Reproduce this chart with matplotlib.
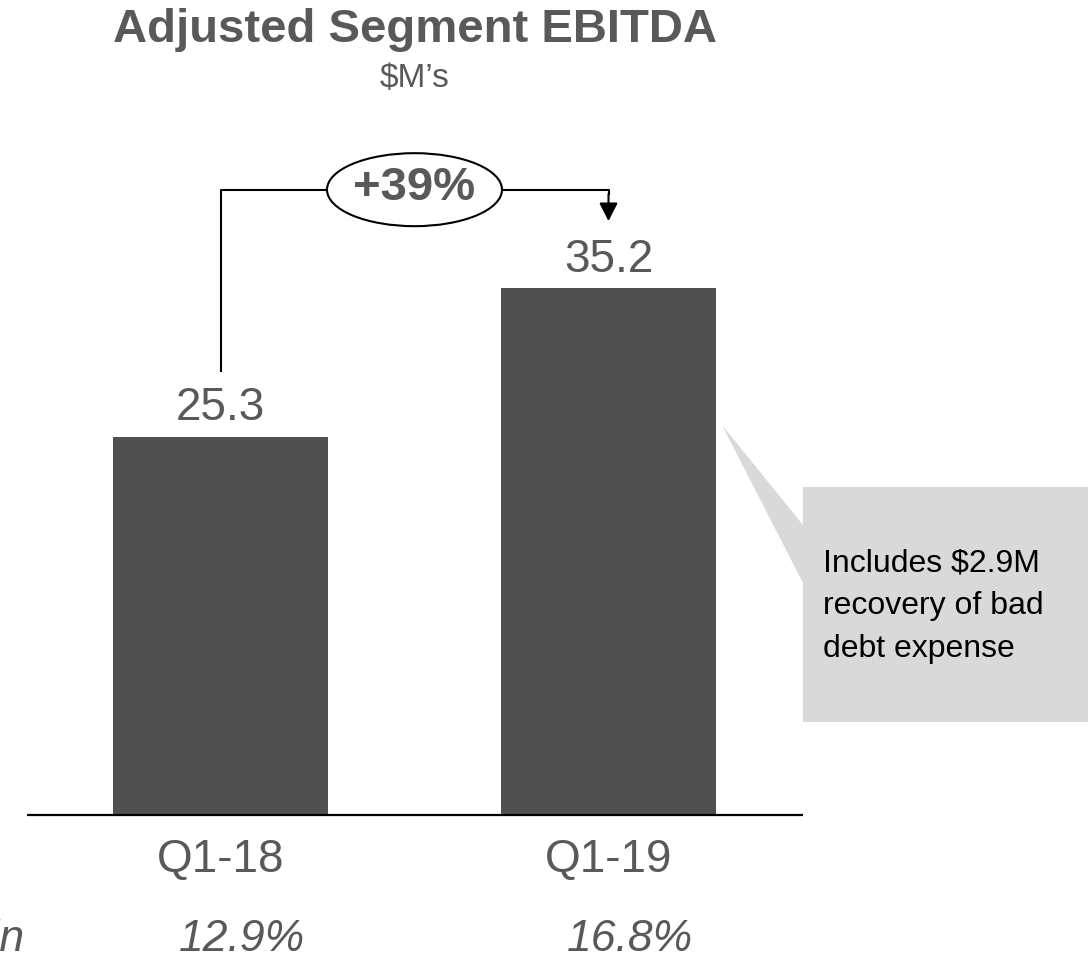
"""Adjusted Segment EBITDA bar chart with growth bracket and callout"""

import matplotlib

matplotlib.use("Agg")
import matplotlib.pyplot as plt
from matplotlib.patches import Ellipse, Polygon
from matplotlib.transforms import Affine2D

# data
categories = ["Q1-18", "Q1-19"]
ebitda = [25.3, 35.2]
margins = ["12.9%", "16.8%"]
growth_label = "+39%"
title = "Adjusted Segment EBITDA"
subtitle = "$M\u2019s"
callout_text = "Includes $2.9M\nrecovery of bad\ndebt expense"
margin_label = "Margin"

W, H = 1088, 967
BAR_COLOR = "#505050"
TEXT_COLOR = "#595959"
BOX_COLOR = "#d9d9d9"

plt.rcParams["font.family"] = ["Liberation Sans", "DejaVu Sans"]

fig = plt.figure(figsize=(W / 100, H / 100), dpi=100)
ax = fig.add_axes([0, 0, 1, 1])
ax.set_axis_off()

# bars sit at x = 0, 1 ; y scale chosen so the baseline lands near the bottom
px_per_x = 388.0
px_per_y = 14.96
x0_px, base_px = 220.5, 815.0
ax.set_xlim(-x0_px / px_per_x, (W - x0_px) / px_per_x)
ax.set_ylim(-(H - base_px) / px_per_y, base_px / px_per_y)

# pixel transform (origin top-left) for layout items
px = Affine2D().scale(1 / W, -1 / H).translate(0, 1) + fig.transFigure

xs = list(range(len(categories)))
ax.bar(xs, ebitda, width=0.554, color=BAR_COLOR, zorder=2)
ax.plot([-0.498, 1.502], [0, 0], color="black", linewidth=1.6, zorder=3, solid_capstyle="butt")

for x, v in zip(xs, ebitda):
    ax.text(x, v + 0.42, f"{v:.1f}", ha="center", va="bottom", fontsize=33, color=TEXT_COLOR)

for x, cat, m in zip(xs, categories, margins):
    ax.text(x, -3.0, cat, ha="center", va="center", fontsize=33, color=TEXT_COLOR)
    ax.text(x + 0.055, -8.3, m, ha="center", va="center", fontsize=32, color=TEXT_COLOR, style="italic")

# row label is cut by the left edge, as in the source slide
ax.text(25, 939, margin_label, transform=px, ha="right", va="center", fontsize=32,
        color=TEXT_COLOR, style="italic")

# title
fig.text(415 / W, 1 - 30 / H, title, ha="center", va="center", fontsize=34, fontweight="bold", color=TEXT_COLOR)
fig.text(415 / W, 1 - 79 / H, subtitle, ha="center", va="center", fontsize=24, color=TEXT_COLOR)

# growth bracket
bracket_y = 41.8
ax.plot([0, 0, 1, 1], [ebitda[0] + 4.4, bracket_y, bracket_y, bracket_y - 0.3],
        color="black", linewidth=1.5, zorder=3)
ax.annotate("", xy=(1, bracket_y - 2.1), xytext=(1, bracket_y - 0.3),
            arrowprops=dict(arrowstyle="-|>,head_length=0.55,head_width=0.28", color="black",
                            linewidth=1.5, shrinkA=0, shrinkB=0, mutation_scale=20), zorder=3)
ax.add_patch(Ellipse((0.5, bracket_y), 175 / px_per_x, 73 / px_per_y, facecolor="white",
                     edgecolor="black", linewidth=1.5, zorder=4))
ax.text(0.5, bracket_y + 0.1, growth_label, ha="center", va="center", fontsize=34,
        fontweight="bold", color=TEXT_COLOR, zorder=5)

# callout
callout = Polygon([(722, 425), (803, 525), (803, 487), (1100, 487), (1100, 722), (803, 722), (803, 583)],
                  closed=True, transform=px, facecolor=BOX_COLOR, edgecolor="none", zorder=1)
ax.add_patch(callout)
ax.text(823, 606, callout_text, transform=px, ha="left", va="center", fontsize=23,
        color="black", linespacing=1.55, zorder=2)

fig.savefig("out.png", dpi=100)
